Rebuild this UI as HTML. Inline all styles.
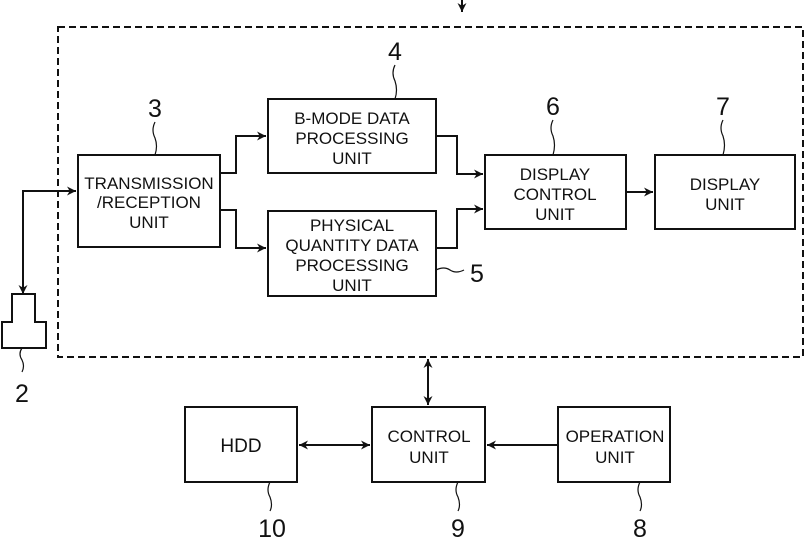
<!DOCTYPE html>
<html><head><style>
html,body{margin:0;padding:0;background:#fff}
svg text{font-family:"Liberation Sans",sans-serif;fill:#111}
</style></head><body>
<svg width="805" height="539" viewBox="0 0 805 539" xmlns="http://www.w3.org/2000/svg">
<defs>
<marker id="a" viewBox="0 0 10 10" refX="10" refY="5" markerWidth="9" markerHeight="9" orient="auto-start-reverse" markerUnits="userSpaceOnUse">
<path d="M0,0 L10,5 L0,10 L3,5 Z" fill="#111"/></marker>
</defs>
<g fill="none" stroke="#111" stroke-width="2">
<rect x="58" y="27" width="745" height="330" stroke-dasharray="7,4"/>
<rect x="78" y="155" width="142" height="92"/>
<rect x="268" y="99" width="168" height="74"/>
<rect x="268" y="211" width="168" height="85"/>
<rect x="485" y="155" width="141" height="74"/>
<rect x="655" y="155" width="140" height="74"/>
<rect x="185" y="407" width="112" height="75"/>
<rect x="372" y="407" width="113" height="75"/>
<rect x="558" y="407" width="112" height="75"/>
<path d="M12,322 V294 H35 V322 H46 V348 H2 V322 Z"/>
<path d="M23,294 V191 H76" marker-start="url(#a)" marker-end="url(#a)"/>
<path d="M220,173 H236 V136 H266" marker-end="url(#a)"/>
<path d="M220,210 H236 V248 H266" marker-end="url(#a)"/>
<path d="M436,136 H457 V174 H483" marker-end="url(#a)"/>
<path d="M436,248 H457 V209 H483" marker-end="url(#a)"/>
<path d="M626,192 H653" marker-end="url(#a)"/>
<path d="M428,359 V405" marker-start="url(#a)" marker-end="url(#a)"/>
<path d="M299,445 H370" marker-start="url(#a)" marker-end="url(#a)"/>
<path d="M558,445 H487" marker-end="url(#a)"/>
<path d="M462,0 V12" marker-end="url(#a)"/>
<path d="M155,122 q-4,8 0,16 q3,8 0,17" stroke-width="1.2"/>
<path d="M395,65 q-4,8 0,16 q3,9 0,18" stroke-width="1.2"/>
<path d="M553,120 q-4,8 0,16 q3,9 0,19" stroke-width="1.2"/>
<path d="M723,120 q-4,8 0,16 q3,9 0,19" stroke-width="1.2"/>
<path d="M436,270 q8,-4 14,0 q6,4 14,0" stroke-width="1.2"/>
<path d="M22,348 q-4,6 0,12 q3,6 0,12" stroke-width="1.2"/>
<path d="M270,482 q-4,8 0,15 q3,8 0,14" stroke-width="1.2"/>
<path d="M458,482 q-4,8 0,15 q3,8 0,14" stroke-width="1.2"/>
<path d="M640,482 q-4,8 0,15 q3,8 0,14" stroke-width="1.2"/>
</g>
<g font-size="17" text-anchor="middle">
<text x="149" y="189">TRANSMISSION</text>
<text x="149" y="208">/RECEPTION</text>
<text x="149" y="228">UNIT</text>
<text x="352" y="124">B-MODE DATA</text>
<text x="352" y="144">PROCESSING</text>
<text x="352" y="164">UNIT</text>
<text x="352" y="231">PHYSICAL</text>
<text x="352" y="251">QUANTITY DATA</text>
<text x="352" y="271">PROCESSING</text>
<text x="352" y="291">UNIT</text>
<text x="555" y="180">DISPLAY</text>
<text x="555" y="200">CONTROL</text>
<text x="555" y="220">UNIT</text>
<text x="725" y="190">DISPLAY</text>
<text x="725" y="210">UNIT</text>
<text x="241" y="452" font-size="19">HDD</text>
<text x="429" y="442">CONTROL</text>
<text x="429" y="463">UNIT</text>
<text x="615" y="442">OPERATION</text>
<text x="615" y="463">UNIT</text>
</g>
<g font-size="25" text-anchor="middle">
<text x="155" y="117">3</text>
<text x="395" y="60">4</text>
<text x="477" y="282">5</text>
<text x="553" y="115">6</text>
<text x="723" y="115">7</text>
<text x="22" y="402">2</text>
<text x="272" y="537">10</text>
<text x="458" y="537">9</text>
<text x="640" y="537">8</text>
</g>
</svg>
</body></html>
